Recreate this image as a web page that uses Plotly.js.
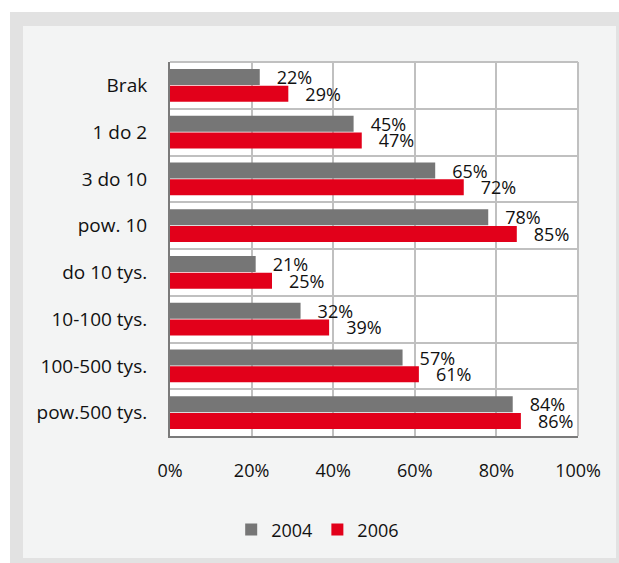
<!DOCTYPE html>
<html>
<head>
<meta charset="utf-8">
<script src="https://cdn.plot.ly/plotly-3.0.1.min.js"></script>
<style>
  html, body { margin: 0; padding: 0; background: #ffffff; width: 619px; height: 563px; overflow: hidden; }
  #frame { position: absolute; left: 10px; top: 12px; width: 609px; height: 551px; background: #e2e2e2; }
  #chart { position: absolute; left: 23px; top: 26px; width: 593px; height: 532px; background: #f3f4f4; }
</style>
</head>
<body>
<div id="frame"></div>
<div id="chart"></div>
<script>
const categories = ["Brak", "1 do 2", "3 do 10", "pow. 10", "do 10 tys.", "10-100 tys.", "100-500 tys.", "pow.500 tys."];
const values2004 = [22, 45, 65, 78, 21, 32, 57, 84];
const values2006 = [29, 47, 72, 85, 25, 39, 61, 86];
const seriesNames = ["2004", "2006"];
const xTickVals = [0, 20, 40, 60, 80, 100];
const xTickText = ["0%", "20%", "40%", "60%", "80%", "100%"];

const fontFamily = "'Open Sans', 'Noto Sans', sans-serif";
const pad = "\u00a0\u00a0\u00a0";

function barTrace(name, vals, color) {
  return {
    type: "bar", orientation: "h", name: name,
    y: categories, x: vals,
    marker: { color: color },
    text: vals.map(v => pad + v + "%"),
    textposition: "outside", textangle: 0, constraintext: "none",
    textfont: { family: fontFamily, size: 18, color: "#111111" },
    cliponaxis: false, hoverinfo: "skip"
  };
}

const traces = [
  barTrace(seriesNames[0], values2004, "#767676"),
  barTrace(seriesNames[1], values2006, "#e2001a")
];

const layout = {
  width: 593, height: 532,
  margin: { l: 147, r: 38, t: 36, b: 122, autoexpand: false },
  paper_bgcolor: "#f3f4f4",
  plot_bgcolor: "#ffffff",
  barmode: "group",
  bargap: 0.29,
  bargroupgap: 0.04,
  font: { family: fontFamily, size: 18, color: "#111111" },
  xaxis: {
    range: [0, 100], tickvals: xTickVals, ticktext: xTickText, tickangle: 0,
    showgrid: true, gridcolor: "#c0c0c0", gridwidth: 2,
    zeroline: false, showline: true, linecolor: "#7a7a7a", linewidth: 2,
    mirror: false, ticks: "", ticklabelstandoff: 17, automargin: false,
    tickfont: { family: fontFamily, size: 18, color: "#111111" },
    fixedrange: true
  },
  yaxis: {
    type: "category", autorange: "reversed",
    tickson: "boundaries", ticks: "", showgrid: true, gridcolor: "#c0c0c0", gridwidth: 2,
    showline: true, linecolor: "#7a7a7a", linewidth: 2, zeroline: false,
    ticklabelstandoff: 17, automargin: false,
    tickfont: { family: fontFamily, size: 19, color: "#111111" },
    fixedrange: true
  },
  shapes: [
    { type: "line", xref: "paper", yref: "paper", x0: 0, x1: 1, y0: 1, y1: 1, line: { color: "#c0c0c0", width: 2 } },
    { type: "line", xref: "paper", yref: "paper", x0: 1, x1: 1, y0: 0, y1: 1, line: { color: "#c0c0c0", width: 2 } }
  ],
  showlegend: true,
  legend: {
    orientation: "h", x: 0.362, xanchor: "center",
    y: -0.251, yanchor: "middle",
    bgcolor: "rgba(0,0,0,0)", font: { family: fontFamily, size: 18, color: "#111111" },
    itemwidth: 30, traceorder: "normal"
  }
};

Plotly.newPlot("chart", traces, layout, { displayModeBar: false, staticPlot: true });
</script>
</body>
</html>
